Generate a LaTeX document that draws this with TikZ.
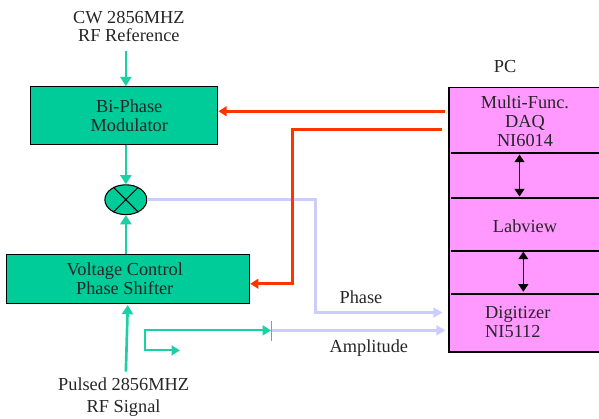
\documentclass[tikz,border=0pt]{standalone}
\usepackage{fontspec}
\setmainfont{Liberation Serif}
\usepackage{xcolor}
\usetikzlibrary{arrows.meta,positioning,calc,shapes.geometric}
\definecolor{rfgreen}{HTML}{00CC99}
\definecolor{pcpink}{HTML}{FF99FF}
\definecolor{ctrlred}{HTML}{FF3300}
\definecolor{siglav}{HTML}{CCCCFF}

\begin{document}
\begin{tikzpicture}[
    font=\fontsize{13.8}{14}\selectfont,
    box/.style={draw=black, fill=rfgreen, line width=0.8pt, inner sep=0pt},
    lbl/.style={align=center, inner sep=0pt, text=black!85},
    rfarrow/.style={-{Triangle[length=2.4mm, width=2.9mm]}, line width=2pt, draw=rfgreen!90!white},
    ctrlarrow/.style={-{Triangle[length=2.2mm, width=2.6mm]}, line width=2.2pt, draw=ctrlred},
    sigarrow/.style={-{Triangle[length=2.4mm, width=2.6mm]}, line width=2pt, draw=siglav},
    divider/.style={line width=1.5pt, draw=black},
    biarrow/.style={{Triangle[length=2.0mm, width=2.6mm]}-{Triangle[length=2.0mm, width=2.6mm]}, line width=1pt}
  ]
    \useasboundingbox (0,0) rectangle (15.848,-11.06);

    % left column
    \node[box, minimum width=4.97cm, minimum height=1.53cm] (mod) at (3.28,-3.056) {};
    \node[box, ellipse, minimum width=1.11cm, minimum height=0.79cm, below=1.04cm of mod, xshift=0.05cm] (mix) {};
    \draw[line width=0.7pt] (mix.45) -- (mix.225) (mix.135) -- (mix.-45);
    \node[box, minimum width=6.43cm, minimum height=1.30cm, below=1.03cm of mix, xshift=0.06cm] (vcs) {};

    \node[lbl] (modtxt) at ([xshift=0.14cm]mod) {Bi-Phase\\[0.3pt]Modulator};
    \node[lbl] (vcstxt) at ([xshift=-0.09cm,yshift=0.02cm]vcs) {Voltage Control\\[0.3pt]Phase Shifter};
    \node[lbl] (cwlbl) at (3.41,-0.71) {CW 2856MHZ\\[-0.5pt]RF Reference};
    \node[lbl] (rflbl) at (3.27,-10.50) {Pulsed 2856MHZ\\[2.5pt]RF Signal};

    % PC stack
    \node[draw=black, fill=pcpink, line width=0.8pt, minimum width=4.05cm, minimum height=7.01cm, inner sep=0pt] (pc) at (13.904,-5.808) {};
    \node[lbl, above=0.37cm of pc, xshift=-0.54cm] (pclbl) {PC};
    \node[lbl] (daq) at (13.89,-3.20) {Multi-Func.\\[0.3pt]DAQ\\[0.3pt]NI6014};
    \node[lbl] (lab) at (13.89,-5.98) {Labview};
    \node[lbl, align=left] (dig) at (13.70,-8.52) {Digitizer\\[-0.3pt]NI5112};
    \foreach \name/\dy in {d1/1.77,d2/2.96,d3/4.34,d4/5.48}{
      \coordinate (\name) at ([shift={(0.06,-\dy)}]pc.north west);
      \draw[divider] (\name) -- (\name -| pc.east);
    }
    \draw[biarrow] ([xshift=1.82cm,yshift=-0.03cm]d1) -- ([xshift=1.82cm,yshift=0.05cm]d2);
    \draw[biarrow] ([xshift=1.92cm,yshift=-0.03cm]d3) -- ([xshift=1.92cm,yshift=0.05cm]d4);

    % free ends beside the PC
    \coordinate (daqA) at ([shift={(-0.10,-0.655)}]pc.north west);
    \coordinate (daqB) at ([shift={(-0.16,-1.13)}]pc.north west);
    \coordinate (phaseIn) at ([shift={(-0.16,-5.98)}]pc.north west);
    \coordinate (ampIn) at ([shift={(-0.08,-6.38)}]pc.north west);
    \coordinate (split) at ([shift={(3.78,-0.69)}]vcs.south);
    \coordinate (cwEnd) at ($(cwlbl.south -| mix)+(0,-0.22)$);
    \coordinate (rfEnd) at ($(rflbl.north -| mix)+(0,0.15)$);

    % signal paths
    \draw[sigarrow] (mix.east) -- ++(4.45,0) |- (phaseIn);
    \draw[sigarrow] (split) -- (split -| ampIn);
    \draw[rfarrow] (cwEnd) -- (mod.north -| mix);
    \draw[rfarrow] (mod.south -| mix) -- (mix.north);
    \draw[rfarrow] (vcs.north -| mix) -- (mix.south);
    \draw[rfarrow] (rfEnd) -- ([xshift=-0.01cm,yshift=-0.02cm]vcs.south);
    \draw[rfarrow, {Triangle[length=2.2mm, width=2.6mm]}-{Triangle[length=2.2mm, width=2.6mm]}, line width=1.4pt]
      (split) -- ++(-3.34,0) |- ++(0.93,-0.53);
    \draw[line width=0.7pt, draw=rfgreen!90!white] ([yshift=0.26cm]split) -- ([yshift=-0.29cm]split);
    \draw[ctrlarrow] (daqA) -- (mod.east |- daqA);
    \draw[ctrlarrow] (daqB) -| ([xshift=1.12cm,yshift=-0.12cm]vcs.east) -- ([yshift=-0.12cm]vcs.east);

    \node[lbl] (phaselbl) at (9.55,-7.86) {Phase};
    \node[lbl] (amplbl) at (9.76,-9.21) {Amplitude};
  \end{tikzpicture}
\end{document}
